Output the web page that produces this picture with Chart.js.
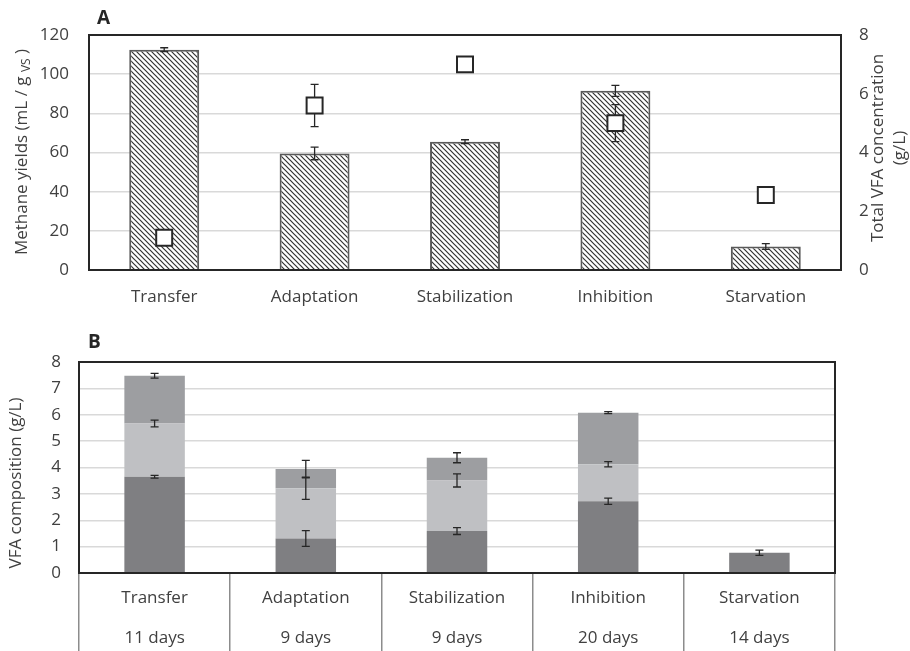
<!DOCTYPE html>
<html>
<head>
<meta charset="utf-8">
<script src="https://cdn.jsdelivr.net/npm/chart.js@4.4.1/dist/chart.umd.min.js"></script>
<style>
  html, body { margin: 0; padding: 0; background: #fff; }
  #wrap { position: relative; width: 910px; height: 651px; }
  #boxA { position: absolute; left: 0; top: 0; width: 910px; height: 310px; }
  #boxB { position: absolute; left: 0; top: 310px; width: 910px; height: 341px; }
</style>
</head>
<body>
<div id="wrap">
  <div id="boxA"><canvas id="chartA"></canvas></div>
  <div id="boxB"><canvas id="chartB"></canvas></div>
</div>
<script>
// phases of the reactor run
const phases = ['Transfer', 'Adaptation', 'Stabilization', 'Inhibition', 'Starvation'];
const durations = ['11 days', '9 days', '9 days', '20 days', '14 days'];

// panel A: methane yield (bars, left axis) and total VFA (squares, right axis)
const methaneYield = [112.5, 59.5, 65.5, 91.5, 12];
const methaneErr = [1, 3.2, 1, 2.8, 1.5];
const totalVfa = [1.1, 5.6, 7.0, 5.0, 2.55];
const totalVfaErr = [0, 0.72, 0, 0.63, 0];

// panel B: VFA composition, stacked
const vfaLower = [3.65, 1.31, 1.59, 2.72, 0.77];
const vfaLowerErr = [0.05, 0.3, 0.13, 0.12, 0.1];
const vfaMiddle = [2.02, 1.90, 1.92, 1.40, 0];
const vfaMiddleErr = [0.13, 0.42, 0.25, 0.1, 0];
const vfaUpper = [1.81, 0.73, 0.86, 1.96, 0];
const vfaUpperErr = [0.09, 0.33, 0.19, 0.04, 0];

const yTicksA = [0, 20, 40, 60, 80, 100, 120];
const y1TicksA = [0, 2, 4, 6, 8];
const yTicksB = [0, 1, 2, 3, 4, 5, 6, 7, 8];

const FONT = '"Open Sans"';
const TEXT = '#404040';
Chart.defaults.font.family = FONT;
Chart.defaults.font.size = 17;
Chart.defaults.color = TEXT;
Chart.defaults.animation = false;

function hatchPattern() {
  const c = document.createElement('canvas');
  c.width = 5; c.height = 5;
  const g = c.getContext('2d');
  g.fillStyle = '#fff';
  g.fillRect(0, 0, 5, 5);
  g.strokeStyle = '#333';
  g.lineWidth = 1.2;
  g.beginPath();
  g.moveTo(-1, -1); g.lineTo(6, 6);
  g.moveTo(-1, 4); g.lineTo(1, 6);
  g.moveTo(4, -1); g.lineTo(6, 1);
  g.stroke();
  return g.createPattern(c, 'repeat');
}

function drawErrors(chart, index) {
  const ds = chart.data.datasets[index];
  if (!ds.errors) return;
  const meta = chart.getDatasetMeta(index);
  const scale = chart.scales[meta.yAxisID];
  const ctx = chart.ctx;
  ctx.save();
  ctx.strokeStyle = '#262626';
  ctx.lineWidth = 1.3;
  meta.data.forEach((el, i) => {
    const err = ds.errors[i];
    if (!err || !ds.data[i]) return;
    const d = Math.abs(scale.getPixelForValue(0) - scale.getPixelForValue(err));
    const x = el.x, y = el.y;
    ctx.beginPath();
    ctx.moveTo(x, y - d); ctx.lineTo(x, y + d);
    ctx.moveTo(x - 4, y - d); ctx.lineTo(x + 4, y - d);
    ctx.moveTo(x - 4, y + d); ctx.lineTo(x + 4, y + d);
    ctx.stroke();
  });
  ctx.restore();
}

const errorBars = {
  id: 'errorBars',
  beforeDatasetDraw(chart, args) {
    if (chart.data.datasets[args.index].type === 'line') drawErrors(chart, args.index);
  },
  afterDatasetDraw(chart, args) {
    if (chart.data.datasets[args.index].type !== 'line') drawErrors(chart, args.index);
  }
};

// frame round the plot, panel letter and axis titles
const decor = {
  id: 'decor',
  afterDraw(chart, args, opts) {
    const ctx = chart.ctx;
    const a = chart.chartArea;
    ctx.save();
    ctx.strokeStyle = '#262626';
    ctx.lineWidth = 2;
    ctx.strokeRect(a.left, a.top, a.right - a.left, a.bottom - a.top);

    ctx.fillStyle = '#262626';
    ctx.font = 'bold 19px ' + FONT;
    ctx.textBaseline = 'middle';
    ctx.textAlign = 'left';
    ctx.fillText(opts.letter, opts.letterX, opts.letterY);

    ctx.fillStyle = TEXT;
    if (opts.leftTitle) {
      const parts = opts.leftTitle;
      ctx.save();
      ctx.translate(opts.leftX, opts.leftY);
      ctx.rotate(-Math.PI / 2);
      const widths = parts.map(p => {
        ctx.font = (p.sub ? '12px ' : '17px ') + FONT;
        return ctx.measureText(p.text).width;
      });
      let x = -widths.reduce((s, w) => s + w, 0) / 2;
      parts.forEach((p, i) => {
        ctx.font = (p.sub ? '12px ' : '17px ') + FONT;
        ctx.textAlign = 'left';
        ctx.fillText(p.text, x, p.sub ? 5 : 0);
        x += widths[i];
      });
      ctx.restore();
    }
    if (opts.rightTitle) {
      ctx.font = '17px ' + FONT;
      ctx.textAlign = 'center';
      opts.rightTitle.forEach((line, i) => {
        ctx.save();
        ctx.translate(opts.rightX[i], opts.rightY);
        ctx.rotate(-Math.PI / 2);
        ctx.fillText(line, 0, 0);
        ctx.restore();
      });
    }
    ctx.restore();
  }
};

const gridStyle = { color: '#d9d9d9', lineWidth: 1.5, drawTicks: false };

new Chart(document.getElementById('chartA'), {
  data: {
    labels: phases,
    datasets: [
      {
        type: 'line',
        data: totalVfa,
        errors: totalVfaErr,
        yAxisID: 'y1',
        showLine: false,
        pointStyle: 'rect',
        pointRadius: 11.3,
        pointBorderWidth: 2,
        pointBorderColor: '#262626',
        pointBackgroundColor: '#fff',
        order: 0
      },
      {
        type: 'bar',
        data: methaneYield,
        errors: methaneErr,
        yAxisID: 'y',
        backgroundColor: hatchPattern(),
        borderColor: '#595959',
        borderWidth: 2,
        barPercentage: 0.465,
        categoryPercentage: 1,
        order: 1
      }
    ]
  },
  options: {
    responsive: true,
    maintainAspectRatio: false,
    layout: { padding: { top: 35, left: 0, right: 0, bottom: 0 } },
    plugins: {
      legend: { display: false },
      tooltip: { enabled: false },
      decor: {
        letter: 'A', letterX: 97, letterY: 19,
        leftTitle: [{ text: 'Methane yields (mL / g ' }, { text: 'VS', sub: true }, { text: ' )' }],
        leftX: 22, leftY: 152,
        rightTitle: ['Total VFA concentration', '(g/L)'],
        rightX: [878, 900], rightY: 148
      }
    },
    scales: {
      x: {
        grid: { display: false, drawTicks: false },
        border: { display: false },
        ticks: { padding: 17 },
        afterFit: s => { s.height = 40; }
      },
      y: {
        position: 'left',
        min: 0, max: 120,
        grid: gridStyle,
        border: { display: false },
        ticks: { padding: 20, stepSize: 20 },
        afterBuildTicks: s => { s.ticks = yTicksA.map(v => ({ value: v })); },
        afterFit: s => { s.width = 89; }
      },
      y1: {
        position: 'right',
        min: 0, max: 8,
        grid: { display: false, drawTicks: false },
        border: { display: false },
        ticks: { padding: 18, stepSize: 2 },
        afterBuildTicks: s => { s.ticks = y1TicksA.map(v => ({ value: v })); },
        afterFit: s => { s.width = 69; }
      }
    }
  },
  plugins: [errorBars, decor]
});

const stackCommon = {
  type: 'bar',
  borderWidth: 0,
  barPercentage: 0.4,
  categoryPercentage: 1
};

new Chart(document.getElementById('chartB'), {
  data: {
    labels: phases.map((p, i) => [p, durations[i]]),
    datasets: [
      Object.assign({ data: vfaLower, errors: vfaLowerErr, backgroundColor: '#7f7f82' }, stackCommon),
      Object.assign({ data: vfaMiddle, errors: vfaMiddleErr, backgroundColor: '#bfc0c3' }, stackCommon),
      Object.assign({ data: vfaUpper, errors: vfaUpperErr, backgroundColor: '#9d9ea1' }, stackCommon)
    ]
  },
  options: {
    responsive: true,
    maintainAspectRatio: false,
    layout: { padding: { top: 52, left: 0, right: 75, bottom: 0 } },
    plugins: {
      legend: { display: false },
      tooltip: { enabled: false },
      decor: {
        letter: 'B', letterX: 88, letterY: 33,
        leftTitle: [{ text: 'VFA composition (g/L)' }],
        leftX: 16, leftY: 173
      }
    },
    scales: {
      x: {
        stacked: true,
        grid: { offset: true, drawOnChartArea: false, drawTicks: true, tickLength: 78, color: '#8c8c8c', lineWidth: 1.5 },
        border: { display: false },
        ticks: { padding: -73, maxRotation: 0, autoSkip: false, font: { lineHeight: 40 / 17 } },
        afterFit: s => { s.height = 78; }
      },
      y: {
        stacked: true,
        min: 0, max: 8,
        grid: gridStyle,
        border: { display: false },
        ticks: { padding: 18, stepSize: 1 },
        afterBuildTicks: s => { s.ticks = yTicksB.map(v => ({ value: v })); },
        afterFit: s => { s.width = 79; }
      }
    }
  },
  plugins: [errorBars, decor]
});
</script>
</body>
</html>
